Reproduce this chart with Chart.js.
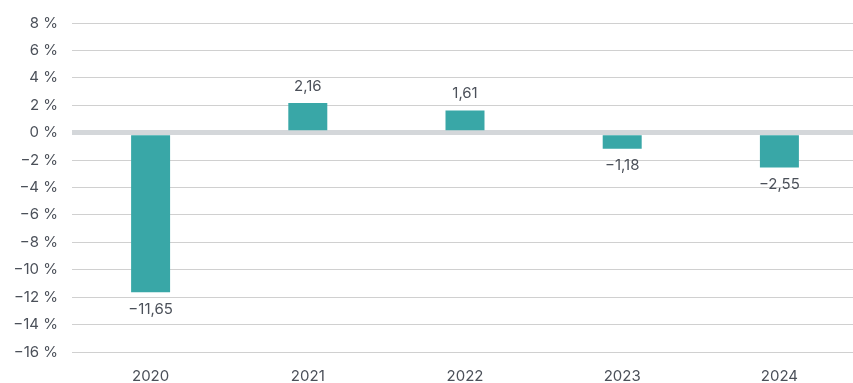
<!DOCTYPE html>
<html>
<head>
<meta charset="utf-8">
<script src="https://cdn.jsdelivr.net/npm/chart.js@4/dist/chart.umd.min.js"></script>
<style>
    html, body { margin: 0; padding: 0; background: #fff; }
    #wrap { width: 853px; height: 383px; overflow: hidden; }
    canvas { display: block; }
</style>
</head>
<body>
<div id="wrap"><canvas id="chart" width="858" height="383"></canvas></div>
<script>
const years = ['2020', '2021', '2022', '2023', '2024'];
const changes = [-11.65, 2.16, 1.61, -1.18, -2.55];
const yMin = -16;
const yMax = 8;
const yStep = 2;

const textColor = '#4b5059';
const barColor = '#39a7a7';
const fontFamily = 'Inter, "Open Sans", sans-serif';

// comma decimals and a real minus sign
function fmt(v, digits) {
    const s = Math.abs(v).toFixed(digits).replace('.', ',');
    return (v < 0 ? '\u2212' : '') + s;
}

// value labels above positive bars, below negative ones
const valueLabels = {
    id: 'valueLabels',
    afterDatasetsDraw(chart) {
        const ctx = chart.ctx;
        const meta = chart.getDatasetMeta(0);
        ctx.save();
        ctx.font = '15px ' + fontFamily;
        ctx.fillStyle = textColor;
        ctx.textAlign = 'center';
        ctx.textBaseline = 'middle';
        meta.data.forEach((bar, i) => {
            const v = changes[i];
            const y = v >= 0 ? bar.y - 17 : bar.y + 17;
            ctx.fillText(fmt(v, 2), bar.x, y);
        });
        ctx.restore();
    }
};

new Chart(document.getElementById('chart'), {
    type: 'bar',
    data: {
        labels: years,
        datasets: [{
            data: changes,
            backgroundColor: barColor,
            borderWidth: 0,
            borderSkipped: false,
            barPercentage: 0.248,
            categoryPercentage: 1
        }]
    },
    options: {
        responsive: false,
        animation: false,
        layout: { padding: { top: 22, left: 0, right: 0, bottom: 0 } },
        scales: {
            x: {
                grid: { display: false, drawTicks: false },
                border: { display: false },
                ticks: {
                    color: textColor,
                    font: { size: 15, family: fontFamily },
                    padding: 15
                },
                afterFit(scale) { scale.height = 31; }
            },
            y: {
                min: yMin,
                max: yMax,
                border: { display: false },
                grid: {
                    z: -1,
                    drawTicks: false,
                    color: ctx => ctx.tick && ctx.tick.value === 0 ? '#d4d7da' : '#d0d0d0',
                    lineWidth: ctx => ctx.tick && ctx.tick.value === 0 ? 5 : 1
                },
                ticks: {
                    stepSize: yStep,
                    color: textColor,
                    font: { size: 15, family: fontFamily },
                    padding: 14,
                    callback: v => fmt(v, 0) + ' %'
                },
                afterFit(scale) { scale.width = 72; }
            }
        },
        plugins: {
            legend: { display: false },
            tooltip: { enabled: false }
        }
    },
    plugins: [valueLabels]
});
</script>
</body>
</html>
